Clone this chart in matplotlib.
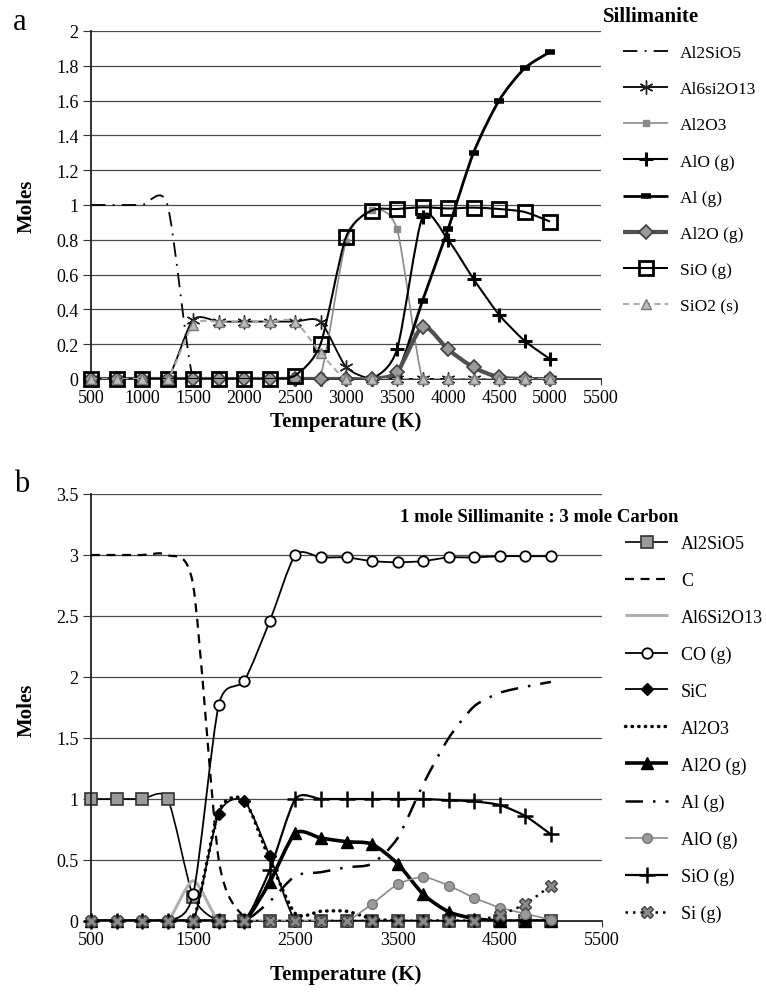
import matplotlib
matplotlib.use("Agg")
import matplotlib.pyplot as plt
from matplotlib.lines import Line2D
from matplotlib.patches import PathPatch
from matplotlib.path import Path

plt.rcParams["font.family"] = ["Liberation Serif", "DejaVu Serif"]

# temperature grid (K), shared by both panels
temps = [500, 750, 1000, 1250, 1500, 1750, 2000, 2250, 2500, 2750,
         3000, 3250, 3500, 3750, 4000, 4250, 4500, 4750, 5000]

# panel a: Sillimanite
a_al2sio5 = [1, 1, 1, 1, 0, 0, 0, 0, 0, 0, 0, 0, 0, 0, 0, 0, 0, 0, 0]
a_al6si2o13 = [0, 0, 0, 0, 0.34, 0.33, 0.33, 0.33, 0.33, 0.33, 0.07, 0, 0, 0, 0, 0, 0, 0, 0]
a_al2o3 = [0, 0, 0, 0, 0, 0, 0, 0, 0, 0.02, 0.79, 0.97, 0.86, 0, 0, 0, 0, 0, 0]
a_alo = [0, 0, 0, 0, 0, 0, 0, 0, 0, 0, 0, 0, 0.17, 0.93, 0.80, 0.575, 0.37, 0.22, 0.115]
a_al = [0, 0, 0, 0, 0, 0, 0, 0, 0, 0, 0, 0, 0.03, 0.45, 0.86, 1.30, 1.60, 1.785, 1.88]
a_al2o = [0, 0, 0, 0, 0, 0, 0, 0, 0, 0, 0, 0, 0.04, 0.30, 0.17, 0.067, 0.01, 0, 0]
a_sio = [0, 0, 0, 0, 0, 0, 0, 0, 0.02, 0.20, 0.816, 0.968, 0.977, 0.987, 0.98, 0.985, 0.977, 0.96, 0.905]
a_sio2 = [0, 0, 0, 0, 0.31, 0.33, 0.33, 0.33, 0.33, 0.15, 0, 0, 0, 0, 0, 0, 0, 0, 0]

# panel b: 1 mole Sillimanite : 3 mole Carbon
b_al2sio5 = [1, 1, 1, 1, 0.2, 0, 0, 0, 0, 0, 0, 0, 0, 0, 0, 0, 0, 0, 0]
b_c = [3, 3, 3, 3, 2.75, 0.5, 0.03, 0, 0, 0, 0, 0, 0, 0, 0, 0, 0, 0, 0]
b_al6si2o13 = [0, 0, 0, 0, 0.33, 0, 0, 0, 0, 0, 0, 0, 0, 0, 0, 0, 0, 0, 0]
b_co = [0, 0, 0, 0, 0.22, 1.77, 1.97, 2.46, 3.0, 2.98, 2.98, 2.95, 2.94, 2.95, 2.98, 2.98, 2.99, 2.99, 2.99]
b_sic = [0, 0, 0, 0, 0, 0.88, 0.98, 0.53, 0, 0, 0, 0, 0, 0, 0, 0, 0, 0, 0]
b_al2o3 = [0, 0, 0, 0, 0, 0.9, 0.99, 0.5, 0.06, 0.08, 0.08, 0.02, 0, 0, 0, 0, 0, 0, 0]
b_al2o = [0, 0, 0, 0, 0, 0, 0, 0.32, 0.72, 0.68, 0.65, 0.63, 0.47, 0.22, 0.075, 0.02, 0, 0, 0]
b_al = [0, 0, 0, 0, 0, 0, 0, 0.16, 0.37, 0.40, 0.44, 0.47, 0.68, 1.12, 1.50, 1.76, 1.87, 1.92, 1.96]
b_alo = [0, 0, 0, 0, 0, 0, 0, 0, 0, 0, 0, 0.14, 0.30, 0.36, 0.29, 0.19, 0.11, 0.06, 0.01]
b_sio = [0, 0, 0, 0, 0, 0, 0, 0.42, 1.0, 1.0, 1.0, 1.0, 1.0, 1.0, 0.99, 0.98, 0.95, 0.86, 0.71]
b_si = [0, 0, 0, 0, 0, 0, 0, 0, 0, 0, 0, 0, 0, 0, 0, 0, 0.05, 0.14, 0.29]

a_yticks = [0, 0.2, 0.4, 0.6, 0.8, 1, 1.2, 1.4, 1.6, 1.8, 2]
a_ylabels = ["0", "0.2", "0.4", "0.6", "0.8", "1", "1.2", "1.4", "1.6", "1.8", "2"]
a_xticks = [500, 1000, 1500, 2000, 2500, 3000, 3500, 4000, 4500, 5000, 5500]
b_yticks = [0, 0.5, 1, 1.5, 2, 2.5, 3, 3.5]
b_ylabels = ["0", "0.5", "1", "1.5", "2", "2.5", "3", "3.5"]
b_xticks = [500, 1500, 2500, 3500, 4500, 5500]

W, H = 766, 995
TENSION = 1 / 8  # how far the Bezier handles reach; Excel overshoots only a little


def smooth_path(x, y):
    """Excel-like smoothed line: Catmull-Rom style cubic Beziers through the points."""
    n = len(x)
    verts = [(x[0], y[0])]
    codes = [Path.MOVETO]
    for i in range(n - 1):
        xp, yp = (x[i - 1], y[i - 1]) if i > 0 else (x[i], y[i])
        xn, yn = (x[i + 2], y[i + 2]) if i + 2 < n else (x[i + 1], y[i + 1])
        c1 = (x[i] + (x[i + 1] - xp) * TENSION, y[i] + (y[i + 1] - yp) * TENSION)
        c2 = (x[i + 1] - (xn - x[i]) * TENSION, y[i + 1] - (yn - y[i]) * TENSION)
        verts += [c1, c2, (x[i + 1], y[i + 1])]
        codes += [Path.CURVE4] * 3
    return Path(verts, codes)


def draw_series(ax, x, y, z, color="black", lw=1.3, ls="-", cap="butt", **mk):
    ax.add_patch(PathPatch(smooth_path(x, y), fill=False, edgecolor=color, lw=lw,
                           linestyle=ls, capstyle=cap, zorder=z))
    if mk.get("marker"):
        ax.plot(x, y, linestyle="none", clip_on=False, zorder=z + 0.5, **mk)
    return Line2D([], [], color=color, lw=lw, linestyle=ls, dash_capstyle=cap,
                  solid_capstyle="butt", **mk)


def style_axes(ax, xticks, yticks, ylabels, ymax):
    ax.set_xlim(500, 5500)
    ax.set_ylim(0, ymax)
    ax.set_xticks(xticks)
    ax.set_xticklabels([str(t) for t in xticks])
    ax.set_yticks(yticks)
    ax.set_yticklabels(ylabels)
    ax.tick_params(axis="both", labelsize=13, direction="out", color="#333333")
    ax.tick_params(axis="x", length=4, pad=3)
    ax.tick_params(axis="y", length=6, pad=3)
    for t in yticks[1:]:
        ax.axhline(t, color="#4a4a4a", lw=0.9, zorder=0.5)
    for side in ("top", "right"):
        ax.spines[side].set_visible(False)
    for side in ("left", "bottom"):
        ax.spines[side].set_linewidth(1.3)
        ax.spines[side].set_color("#222222")


fig = plt.figure(figsize=(W / 100, H / 100), dpi=100)

# ---------------- panel a ----------------
ax_a = fig.add_axes([91 / W, 1 - 380 / H, 510 / W, 348 / H])
style_axes(ax_a, a_xticks, a_yticks, a_ylabels, 2)

handles_a = [
    draw_series(ax_a, temps, a_al2sio5, 2, lw=1.3, ls=(0, (8, 4, 1, 4))),
    draw_series(ax_a, temps, a_al6si2o13, 3, lw=1.3, marker=(6, 2, 0), ms=10,
                mec="#222222", mew=1.0),
    draw_series(ax_a, temps, a_al2o3, 4, color="#8a8a8a", lw=1.2, marker="s", ms=5,
                mfc="#8a8a8a", mec="#8a8a8a"),
    draw_series(ax_a, temps, a_alo, 5, lw=1.5, marker="+", ms=10, mec="black", mew=2.2),
    draw_series(ax_a, temps, a_al, 6, lw=2.0, marker="_", ms=7, mec="black", mew=4),
    draw_series(ax_a, temps, a_al2o, 7, color="#505050", lw=3, marker="D", ms=7,
                mfc="#9a9a9a", mec="#404040", mew=1.2),
    draw_series(ax_a, temps, a_sio, 8, lw=1.5, marker="s", ms=10, mfc="none",
                mec="black", mew=2),
    draw_series(ax_a, temps, a_sio2, 9, color="#aaaaaa", lw=1.5, ls=(0, (3, 2)),
                marker="^", ms=7, mfc="#bbbbbb", mec="#777777"),
]
labels_a = ["Al2SiO5", "Al6si2O13", "Al2O3", "AlO (g)", "Al (g)", "Al2O (g)",
            "SiO (g)", "SiO2 (s)"]
ax_a.legend(handles_a, labels_a, loc="upper left", bbox_to_anchor=(623 / W, 1 - 46 / H),
            bbox_transform=fig.transFigure, frameon=False, fontsize=12.5,
            handlelength=2.6, handletextpad=0.7, labelspacing=1.15,
            borderpad=0, borderaxespad=0)

fig.text(13 / W, 1 - 30 / H, "a", fontsize=22, va="baseline")
fig.text(603 / W, 1 - 17 / H, "Sillimanite", fontsize=15, fontweight="bold",
         ha="left", va="center")
fig.text(27 / W, 1 - 206 / H, "Moles", fontsize=15, fontweight="bold",
         rotation=90, ha="center", va="center")
fig.text(346 / W, 1 - 422 / H, "Temperature (K)", fontsize=15, fontweight="bold",
         ha="center", va="center")

# ---------------- panel b ----------------
ax_b = fig.add_axes([91 / W, 1 - 922 / H, 511 / W, 427 / H])
style_axes(ax_b, b_xticks, b_yticks, b_ylabels, 3.5)

handles_b = [
    draw_series(ax_b, temps, b_al2sio5, 2, lw=1.2, marker="s", ms=8,
                mfc="#9a9a9a", mec="#333333", mew=1.2),
    draw_series(ax_b, temps, b_c, 3, lw=1.6, ls=(0, (4, 3))),
    draw_series(ax_b, temps, b_al6si2o13, 4, color="#b0b0b0", lw=2.2),
    draw_series(ax_b, temps, b_co, 5, lw=1.3, marker="o", ms=7.5, mfc="white",
                mec="black", mew=1.3),
    draw_series(ax_b, temps, b_sic, 6, lw=1.3, marker="D", ms=6, mfc="black", mec="black"),
    draw_series(ax_b, temps, b_al2o3, 7, lw=2.5, ls=(0, (0.1, 1.8)), cap="round"),
    draw_series(ax_b, temps, b_al2o, 8, lw=2.6, marker="^", ms=8, mfc="black", mec="black"),
    draw_series(ax_b, temps, b_al, 9, lw=1.8, ls=(0, (7, 4, 1, 4))),
    draw_series(ax_b, temps, b_alo, 10, color="#8a8a8a", lw=1.2, marker="o", ms=7,
                mfc="#9a9a9a", mec="#777777"),
    draw_series(ax_b, temps, b_sio, 11, lw=1.6, marker="+", ms=11, mec="black", mew=1.8),
    draw_series(ax_b, temps, b_si, 12, lw=1.8, ls=(0, (1, 2)), marker="X", ms=9,
                mfc="#8a8a8a", mec="#444444"),
]
labels_b = ["Al2SiO5", "C", "Al6Si2O13", "CO (g)", "SiC", "Al2O3", "Al2O (g)",
            "Al (g)", "AlO (g)", "SiO (g)", "Si (g)"]
ax_b.legend(handles_b, labels_b, loc="upper left", bbox_to_anchor=(625 / W, 1 - 536 / H),
            bbox_transform=fig.transFigure, frameon=False, fontsize=13,
            handlelength=2.4, handletextpad=0.7, labelspacing=1.1,
            borderpad=0, borderaxespad=0)

fig.text(14 / W, 1 - 492 / H, "b", fontsize=22, va="baseline")
fig.text(400 / W, 1 - 518 / H, "1 mole Sillimanite : 3 mole Carbon", fontsize=13.5,
         fontweight="bold", ha="left", va="center")
fig.text(27 / W, 1 - 710 / H, "Moles", fontsize=15, fontweight="bold",
         rotation=90, ha="center", va="center")
fig.text(346 / W, 1 - 975 / H, "Temperature (K)", fontsize=15, fontweight="bold",
         ha="center", va="center")

fig.savefig("out.png", dpi=100)
plt.close(fig)
